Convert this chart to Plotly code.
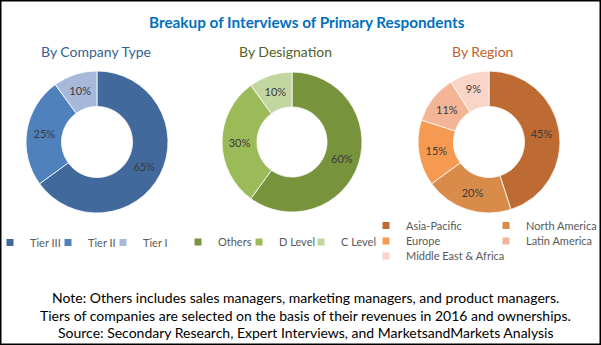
import plotly.graph_objects as go

# ---------------- data ----------------
company_labels = ["Tier III", "Tier II", "Tier I"]
company_values = [65, 25, 10]
company_colors = ["#41699C", "#4F81BD", "#A7B9DA"]

designation_labels = ["Others", "D Level", "C Level"]
designation_values = [60, 30, 10]
designation_colors = ["#77933C", "#9BBB59", "#C4D6A0"]

region_labels = ["Asia-Pacific", "North America", "Europe", "Latin America", "Middle East & Africa"]
region_values = [45, 20, 15, 11, 9]
region_colors = ["#BD6B32", "#D98B4A", "#F59A50", "#F4B596", "#FAD4C6"]

title_text = "Breakup of Interviews of Primary Respondents"
subtitles = ["By Company Type", "By Designation", "By Region"]
subtitle_colors = ["#35618F", "#4F6228", "#C0622A"]
notes = [
    "Note: Others includes sales managers, marketing managers, and product managers.",
    "Tiers of companies are selected on the basis of their revenues in 2016 and ownerships.",
    "Source: Secondary Research, Expert Interviews, and MarketsandMarkets Analysis",
]

# ---------------- layout helpers ----------------
W, H = 601, 345
FONT = "Lato"


def fx(px):
    return px / W


def fy(py):
    return 1 - py / H


fig = go.Figure()

pies = [
    (company_labels, company_values, company_colors, (26, 168)),
    (designation_labels, designation_values, designation_colors, (222, 362)),
    (region_labels, region_values, region_colors, (418, 560)),
]
for labels, values, colors, (x0, x1) in pies:
    fig.add_trace(go.Pie(
        labels=labels, values=values, sort=False, direction="clockwise", rotation=0,
        hole=0.5, marker=dict(colors=colors, line=dict(color="white", width=0.8)),
        texttemplate="%{value}%", textposition="inside", insidetextorientation="horizontal",
        textfont=dict(family=FONT, size=11, color="#3A3A3A"),
        domain=dict(x=[fx(x0), fx(x1)], y=[fy(213), fy(71)]),
        showlegend=False, hoverinfo="label+percent",
    ))

# legend entries (small square markers like the reference)
IND = -13
SYM = 20 + IND          # symbol centre offset inside a legend item
TEXTGAP = IND + 30 + 10  # text offset inside a legend item


def add_entries(labels, colors, legend_id, steps):
    for lab, col, st in zip(labels, colors, steps):
        fig.add_trace(go.Scatter(
            x=[None], y=[None], mode="markers", name=lab,
            marker=dict(symbol="square", size=7, color=col),
            legend=legend_id, legendwidth=st - TEXTGAP - 5, hoverinfo="skip",
        ))


add_entries(company_labels, company_colors, "legend", [58, 55, 90])
add_entries(designation_labels, designation_colors, "legend2", [61, 62, 90])
add_entries(region_labels[0:2], region_colors[0:2], "legend3", [120, 120])
add_entries(region_labels[2:4], region_colors[2:4], "legend4", [120, 120])
add_entries(region_labels[4:], region_colors[4:], "legend5", [150])


def leg(x_sym, yc):
    return dict(
        orientation="h", x=fx(x_sym - SYM), xanchor="left", y=fy(yc), yanchor="middle",
        font=dict(family=FONT, size=11, color="#595959"), indentation=IND,
        bgcolor="rgba(0,0,0,0)", borderwidth=0, traceorder="normal",
    )


annotations = [dict(
    text=f"<b>{title_text}</b>", x=fx(307), y=fy(22), xref="paper", yref="paper",
    xanchor="center", yanchor="middle", showarrow=False,
    font=dict(family=FONT, size=15.3, color="#0070C0"),
)]
for txt, col, xc in zip(subtitles, subtitle_colors, [96, 285, 482]):
    annotations.append(dict(
        text=txt, x=fx(xc), y=fy(51.5), xref="paper", yref="paper",
        xanchor="center", yanchor="middle", showarrow=False,
        font=dict(family=FONT, size=14, color=col),
    ))
for txt, yc in zip(notes, [297.5, 315, 332.5]):
    annotations.append(dict(
        text=txt, x=fx(305), y=fy(yc), xref="paper", yref="paper",
        xanchor="center", yanchor="middle", showarrow=False,
        font=dict(family=FONT, size=14, color="#000000"),
    ))

fig.update_layout(
    width=W, height=H, margin=dict(l=0, r=0, t=0, b=0, autoexpand=False),
    paper_bgcolor="white", plot_bgcolor="white",
    xaxis=dict(visible=False), yaxis=dict(visible=False),
    legend=leg(10, 242.5), legend2=leg(198, 242), legend3=leg(386, 225.5),
    legend4=leg(386, 241), legend5=leg(386, 256),
    annotations=annotations,
    shapes=[dict(type="rect", xref="paper", yref="paper", x0=0, x1=1, y0=0, y1=1,
                 line=dict(color="black", width=3), fillcolor="rgba(0,0,0,0)")],
)

fig.write_html("out.html")
